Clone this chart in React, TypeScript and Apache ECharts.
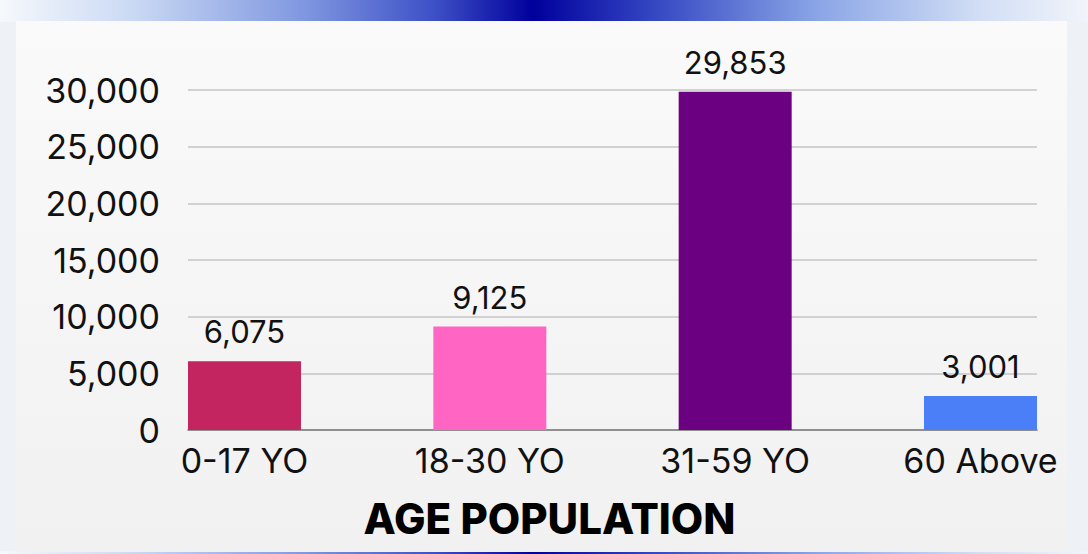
import React, { useEffect, useRef } from "react";
import * as echarts from "echarts";

const categories = ["0-17 YO", "18-30 YO", "31-59 YO", "60 Above"];
const populationValues = [6075, 9125, 29853, 3001];
const barColors = ["#c2255f", "#ff66c4", "#6b0080", "#4a7ff8"];
const yTicks = [0, 5000, 10000, 15000, 20000, 25000, 30000];
const chartTitle = "AGE POPULATION";

const FONT = "Inter, 'Noto Sans', sans-serif";

export default function App() {
  const ref = useRef<HTMLDivElement>(null);
  useEffect(() => {
    document.body.style.margin = "0";
    const chart = echarts.init(ref.current!, null, { renderer: "svg" });
    const bandGradient = new echarts.graphic.LinearGradient(0, 0, 1, 0, [
      { offset: 0, color: "#f6f8fc" },
      { offset: 0.12, color: "#cbdaf4" },
      { offset: 0.28, color: "#7f97e0" },
      { offset: 0.4, color: "#3d4fc6" },
      { offset: 0.49, color: "#00009c" },
      { offset: 0.6, color: "#3446c2" },
      { offset: 0.75, color: "#8aa5e6" },
      { offset: 0.9, color: "#d2def5" },
      { offset: 1, color: "#f1f4fa" },
    ]);
    const yMax = yTicks[yTicks.length - 1];
    const yInterval = yTicks[1] - yTicks[0];
    chart.setOption({
      animation: false,
      backgroundColor: "#eef1f6",
      textStyle: { fontFamily: FONT },
      graphic: [
        { type: "rect", z: -10, shape: { x: 0, y: 0, width: 1088, height: 22 }, style: { fill: bandGradient } },
        { type: "rect", z: -10, shape: { x: 0, y: 551, width: 1088, height: 3 }, style: { fill: bandGradient } },
        {
          type: "rect",
          z: -9,
          shape: { x: 16, y: 21, width: 1051, height: 531 },
          style: {
            fill: new echarts.graphic.LinearGradient(0, 0, 0, 1, [
              { offset: 0, color: "#fafafa" },
              { offset: 1, color: "#f1f1f1" },
            ]),
          },
        },
        {
          type: "text",
          x: 549.5,
          y: 518,
          style: {
            text: chartTitle,
            fontFamily: FONT,
            fontSize: 42,
            fontWeight: 800,
            fill: "#000",
            align: "center",
            verticalAlign: "middle",
          },
        },
      ],
      grid: [
        { left: 188, right: 51, top: 90, bottom: 124 },
        { left: 244.5, right: 107.5, top: 90, bottom: 124 },
      ],
      xAxis: [
        {
          gridIndex: 0,
          type: "category",
          data: categories,
          axisLine: { show: true, lineStyle: { color: "#7a7a7a", width: 1.5 } },
          axisTick: { show: false },
          axisLabel: { show: false },
        },
        {
          gridIndex: 1,
          type: "category",
          data: categories,
          boundaryGap: false,
          axisLine: { show: false },
          axisTick: { show: false },
          axisLabel: {
            interval: 0,
            fontSize: 34,
            color: "#111",
            margin: 13,
            fontFamily: FONT,
          },
        },
      ],
      yAxis: [
        {
          gridIndex: 0,
          type: "value",
          min: 0,
          max: yMax,
          interval: yInterval,
          axisLine: { show: false },
          axisTick: { show: false },
          splitLine: { lineStyle: { color: "#c4c4c4", width: 1.5 } },
          axisLabel: {
            fontSize: 34,
            color: "#111",
            margin: 28,
            fontFamily: FONT,
            formatter: (v: number) => v.toLocaleString("en-US"),
          },
        },
        {
          gridIndex: 1,
          type: "value",
          min: 0,
          max: yMax,
          interval: yInterval,
          show: false,
          splitLine: { show: false },
        },
      ],
      series: [
        {
          type: "bar",
          xAxisIndex: 1,
          yAxisIndex: 1,
          barWidth: 113,
          data: populationValues.map((v, i) => ({ value: v, itemStyle: { color: barColors[i] } })),
          label: {
            show: true,
            position: "top",
            distance: 14,
            fontSize: 31,
            color: "#111",
            fontFamily: FONT,
            formatter: (p: any) => Number(p.value).toLocaleString("en-US"),
          },
        },
      ],
    });
    return () => chart.dispose();
  }, []);
  return <div ref={ref} style={{ position: "fixed", left: 0, top: 0, width: 1088, height: 554 }} />;
}
